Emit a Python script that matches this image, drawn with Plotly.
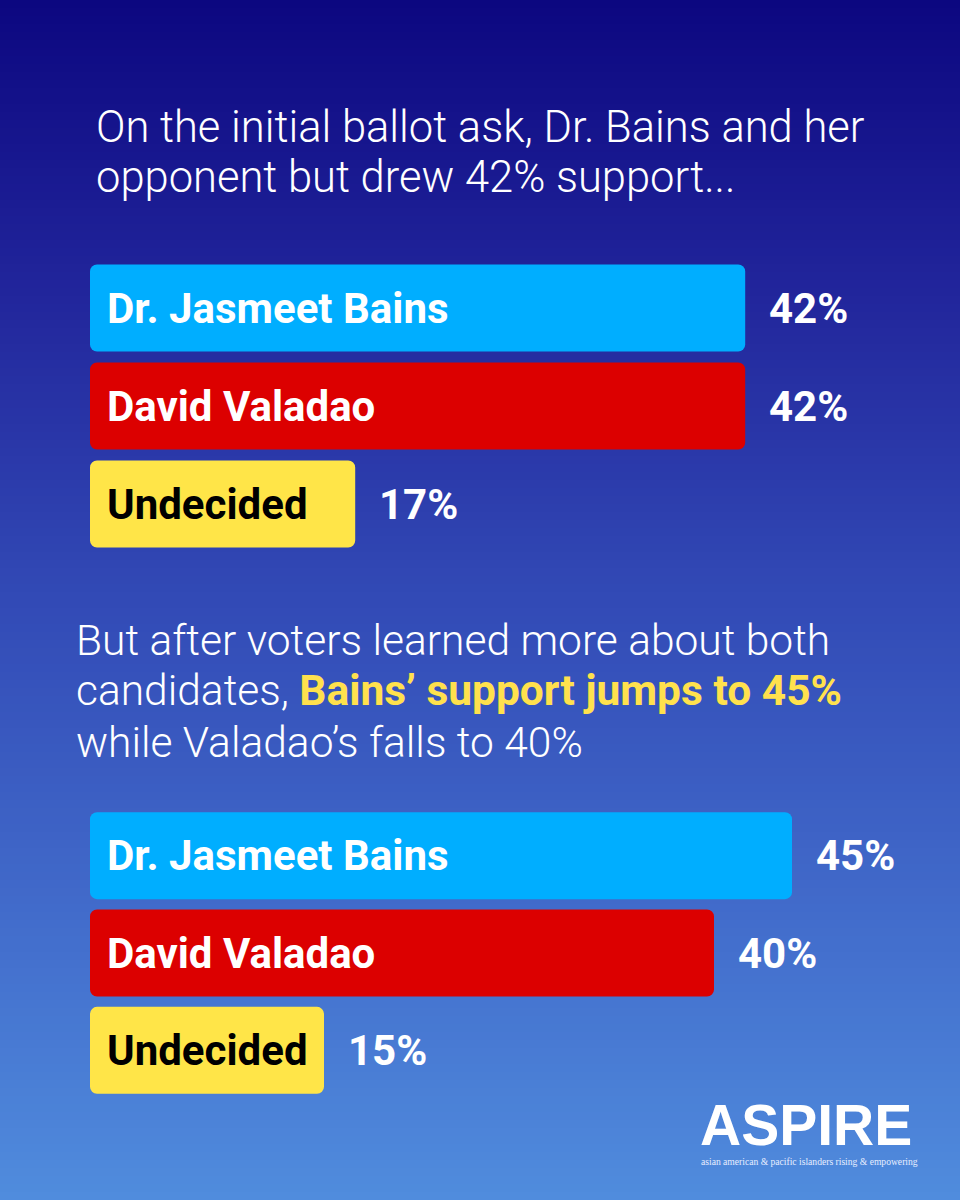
import plotly.graph_objects as go

# ---- data ----
candidates = ["Dr. Jasmeet Bains", "David Valadao", "Undecided"]
initial_ballot = [42, 42, 17]
informed_ballot = [45, 40, 15]
value_labels_initial = ["42%", "42%", "17%"]
value_labels_informed = ["45%", "40%", "15%"]

bar_colors = ["#00aeff", "#dc0000", "#ffe548"]
label_colors = ["#ffffff", "#ffffff", "#000000"]

W, H = 960, 1200


def py(px):
    return 1 - px / H


def px_x(px):
    return px / W


fig = go.Figure()

# ---- background gradient ----
stops = [(0, (12, 7, 128)), (300, (34, 38, 156)), (600, (50, 74, 182)),
         (900, (65, 106, 202)), (1200, (80, 140, 221))]


def grad(y):
    for (y0, c0), (y1, c1) in zip(stops[:-1], stops[1:]):
        if y0 <= y <= y1:
            t = (y - y0) / (y1 - y0)
            return tuple(round(a + (b - a) * t) for a, b in zip(c0, c1))
    return stops[-1][1]


shapes = []
step = 8
for y in range(0, H, step):
    c = grad(y + step / 2)
    shapes.append(dict(type="rect", xref="paper", yref="paper", x0=0, x1=1,
                       y0=py(y + step + 0.5), y1=py(y), line=dict(width=0),
                       fillcolor="rgb(%d,%d,%d)" % c, layer="below"))

# ---- bars ----
fig.add_trace(go.Bar(x=initial_ballot, y=candidates, orientation="h", base=0,
                     marker=dict(color=bar_colors, line=dict(width=0)),
                     width=0.89, xaxis="x", yaxis="y", hoverinfo="skip", showlegend=False))
fig.add_trace(go.Bar(x=informed_ballot, y=candidates, orientation="h", base=0,
                     marker=dict(color=bar_colors, line=dict(width=0)),
                     width=0.894, xaxis="x2", yaxis="y2", hoverinfo="skip", showlegend=False))

annotations = []
label_font = "Roboto"
for i, cat in enumerate(candidates):
    for xr, yr, vals, labs in (("x", "y", initial_ballot, value_labels_initial),
                               ("x2", "y2", informed_ballot, value_labels_informed)):
        annotations.append(dict(x=0, y=cat, xref=xr, yref=yr, text="<b>%s</b>" % cat,
                                xanchor="left", yanchor="middle", xshift=15, yshift=0,
                                showarrow=False,
                                font=dict(family=label_font, size=42, color=label_colors[i])))
        annotations.append(dict(x=vals[i], y=cat, xref=xr, yref=yr, text="<b>%s</b>" % labs[i],
                                xanchor="left", yanchor="middle", xshift=22,
                                showarrow=False,
                                font=dict(family=label_font, size=42, color="#ffffff")))


def line(text, x_px, y_px, size):
    annotations.append(dict(x=px_x(x_px), y=py(y_px), xref="paper", yref="paper",
                            text=text, xanchor="left", yanchor="middle",
                            showarrow=False,
                            font=dict(family="Roboto", size=size, color="#ffffff", weight=300)))


line("On the initial ballot ask, Dr. Bains and her", 94, 127, 43.5)
line("opponent but drew 42% support...", 94, 178, 43.5)
line("But after voters learned more about both", 74, 640, 42.5)
line("candidates, <span style='color:#ffe14d;font-weight:bold'>Bains\u2019 support jumps to 45%</span>",
     74, 690, 42.5)
line("while Valadao\u2019s falls to 40%", 74, 742, 42.5)

# ---- logo ----
annotations.append(dict(x=px_x(698), y=py(1125), xref="paper", yref="paper",
                        text="<b>ASPIRE</b>", xanchor="left", yanchor="middle", showarrow=False,
                        height=44, valign="middle",
                        font=dict(family="Liberation Sans", size=57, color="#ffffff")))
annotations.append(dict(x=px_x(699), y=py(1161), xref="paper", yref="paper",
                        text="asian american &amp; pacific islanders rising &amp; empowering",
                        xanchor="left", yanchor="middle", showarrow=False,
                        font=dict(family="Liberation Serif", size=9.6, color="#e8eeff")))

x_range = [-90 / 15.6, (W - 90) / 15.6]
axis_off = dict(visible=False, showgrid=False, zeroline=False, fixedrange=True)

fig.update_layout(
    width=W, height=H, autosize=False,
    margin=dict(l=0, r=0, t=0, b=0),
    paper_bgcolor="rgb(12,7,128)", plot_bgcolor="rgba(0,0,0,0)",
    barcornerradius=7,
    shapes=shapes, annotations=annotations,
    xaxis=dict(domain=[0, 1], range=x_range, anchor="y", **axis_off),
    yaxis=dict(domain=[py(553), py(259)], range=[2.5, -0.5], type="category",
               categoryorder="array", categoryarray=candidates, anchor="x", **axis_off),
    xaxis2=dict(domain=[0, 1], range=x_range, anchor="y2", **axis_off),
    yaxis2=dict(domain=[py(1099), py(807)], range=[2.5, -0.5], type="category",
                categoryorder="array", categoryarray=candidates, anchor="x2", **axis_off),
)

fig.write_html("out.html", config={"displayModeBar": False},
               post_script="document.body.style.margin='0px';document.body.style.overflow='hidden';")
